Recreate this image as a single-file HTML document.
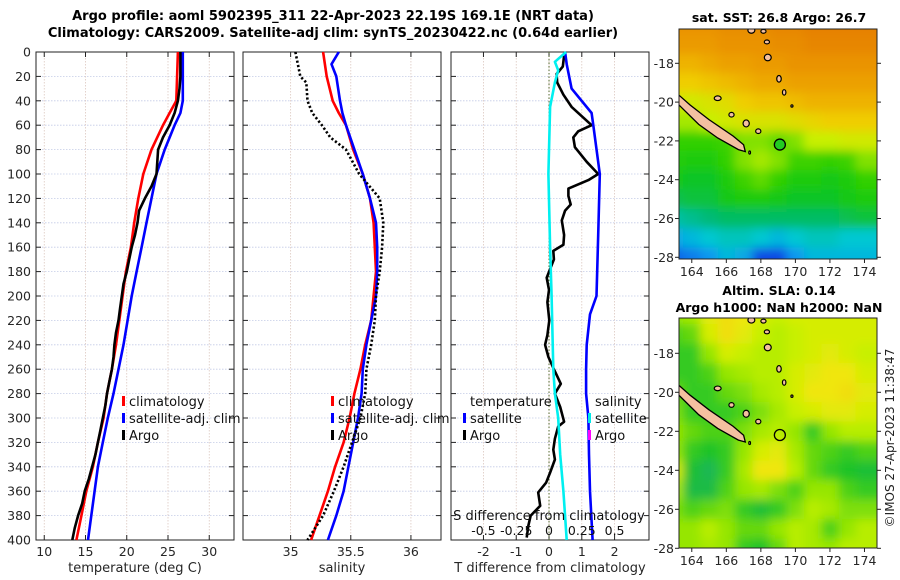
<!DOCTYPE html>
<html><head><meta charset="utf-8"><style>
html,body{margin:0;padding:0;background:#fff}
svg{display:block;font-family:"DejaVu Sans","Liberation Sans",sans-serif}
</style></head><body>
<svg id="fig" width="900" height="580" viewBox="0 0 900 580" xmlns="http://www.w3.org/2000/svg">
<defs>
<clipPath id="clipTop"><rect x="679" y="29" width="198" height="230"/></clipPath>
<clipPath id="clipBot"><rect x="679" y="318" width="198" height="230"/></clipPath>
<filter id="blur" x="-5%" y="-5%" width="110%" height="110%"><feGaussianBlur stdDeviation="5"/></filter>
</defs>
<text x="333" y="20" text-anchor="middle" font-size="13" font-weight="bold">Argo profile: aoml 5902395_311 22-Apr-2023 22.19S 169.1E (NRT data)</text>
<text x="333" y="37" text-anchor="middle" font-size="13" font-weight="bold">Climatology: CARS2009. Satellite-adj clim: synTS_20230422.nc (0.64d earlier)</text>
<g id="plots"></g>
<text x="779" y="22" text-anchor="middle" font-size="12.5" font-weight="bold">sat. SST: 26.8 Argo: 26.7</text>
<text x="779" y="295" text-anchor="middle" font-size="12.5" font-weight="bold">Altim. SLA: 0.14</text>
<text x="779" y="312" text-anchor="middle" font-size="12.5" font-weight="bold">Argo h1000: NaN h2000: NaN</text>
<text transform="translate(894,438) rotate(-90)" text-anchor="middle" font-size="12" fill="#222">©IMOS 27-Apr-2023 11:38:47</text>
</svg>
<script>
// ---- profile data ----
const tDepth=[0,20,40,50,60,80,100,120,140,160,180,200,220,240,260,280,300,320,340,360,380,400];
const tClim=[26.2,26.1,26.0,25.2,24.4,23.0,22.0,21.4,20.9,20.5,19.9,19.5,19.1,18.7,18.2,17.6,17.2,16.5,15.9,15.1,14.5,13.9];
const tSat=[26.8,26.8,26.8,26.5,25.8,24.6,23.6,23.0,22.4,21.8,21.2,20.6,20.1,19.6,19.0,18.4,17.7,17.1,16.5,16.1,15.7,15.3];
const aDepth=[0,10,20,30,40,50,60,70,80,90,100,110,120,130,140,150,160,170,180,190,200,210,220,230,240,250,260,270,280,290,300,310,320,330,340,350,360,370,380,390,400];
const aT=[26.5,26.5,26.5,26.4,26.2,25.8,25.2,24.4,23.8,23.7,23.6,23.0,22.2,21.5,21.3,21.0,20.6,20.3,20.0,19.6,19.4,19.2,19.0,18.7,18.5,18.4,18.2,17.9,17.6,17.4,17.1,16.8,16.5,16.2,15.8,15.4,14.9,14.6,14.1,13.7,13.4];
const sClim=[35.27,35.30,35.35,35.40,35.46,35.52,35.60,35.66,35.69,35.70,35.71,35.69,35.67,35.62,35.58,35.53,35.49,35.44,35.37,35.31,35.24,35.17];
const sSatDepth=[0,10,20,40,50,60,80,100,120,140,160,180,200,220,240,260,280,300,320,340,360,380,400];
const sSat=[35.40,35.34,35.38,35.41,35.43,35.46,35.53,35.60,35.66,35.71,35.72,35.72,35.71,35.67,35.63,35.60,35.59,35.56,35.52,35.48,35.44,35.38,35.31];
const aSDepth=[0,20,25,40,50,60,70,80,100,120,140,160,180,200,220,240,260,280,300,320,340,360,380,400];
const aS=[35.04,35.08,35.13,35.14,35.18,35.26,35.33,35.46,35.57,35.74,35.77,35.76,35.74,35.71,35.70,35.67,35.63,35.62,35.58,35.51,35.44,35.36,35.27,35.14];
const dTDepth=[3,12,18,25,35,45,60,65,70,78,90,100,105,112,118,125,130,138,150,158,163,170,185,195,205,220,232,240,250,260,272,280,291,303,307,317,326,334,345,353,361,372,380,388,398];
const dTArgo=[0.46,0.42,0.23,0.25,0.44,0.69,1.30,0.89,0.74,0.79,1.15,1.50,1.20,0.59,0.59,0.66,0.49,0.39,0.46,0.44,0.13,0.15,-0.07,0,-0.05,0.01,-0.05,-0.12,-0.02,0.15,0.36,0.18,0.34,0.46,0.28,0.18,0.13,0.18,0.03,-0.09,-0.33,-0.27,-0.56,-0.63,-0.68];
const dTSatDepth=[0,10,30,50,60,100,150,200,215,240,260,280,300,330,360,400];
const dTSat=[0.49,0.54,0.69,1.30,1.35,1.55,1.50,1.45,1.25,1.15,1.13,1.13,1.20,1.22,1.25,1.33];
const dSSatDepth=[0,8,15,25,45,100,160,200,260,280,300,330,360,400];
const dSSat=[0.13,0.045,0.07,0.045,0.008,-0.005,0.008,0.02,0.033,0.045,0.07,0.085,0.11,0.135];
const depthTicks=[0,20,40,60,80,100,120,140,160,180,200,220,240,260,280,300,320,340,360,380,400];
const tTicks=[10,15,20,25,30];
const sTicks=[35,35.5,36];
const dTTicks=[-2,-1,0,1,2];
const dSTicks=[-0.5,-0.25,0,0.25,0.5];
// ---- map data (1-degree cells, lon 163..174, lat -16..-28) ----
const mapLons=[163,164,165,166,167,168,169,170,171,172,173,174];
const mapLats=[-16,-17,-18,-19,-20,-21,-22,-23,-24,-25,-26,-27,-28];
const sst=[
[28.0,28.0,28.0,28.1,28.1,28.1,28.2,28.2,28.3,28.3,28.3,28.3],
[27.9,27.9,27.9,28.0,28.0,28.0,28.1,28.1,28.2,28.2,28.2,28.2],
[27.6,27.6,27.7,27.8,27.8,27.9,27.9,28.0,28.0,28.0,28.0,28.0],
[27.3,27.3,27.4,27.5,27.6,27.7,27.7,27.8,27.8,27.8,27.8,27.8],
[26.9,26.9,27.0,27.1,27.3,27.4,27.4,27.5,27.6,27.6,27.6,27.6],
[26.7,26.7,26.8,26.9,27.0,27.0,27.0,27.1,27.2,27.3,27.3,27.3],
[26.3,26.3,26.3,26.4,26.6,26.6,26.5,26.6,26.8,26.8,26.9,26.9],
[26.2,26.1,26.1,26.3,26.6,26.7,26.6,26.4,26.4,26.3,26.4,26.6],
[26.0,25.9,25.9,26.1,26.4,26.5,26.3,26.1,26.1,26.0,26.1,26.3],
[25.7,25.8,25.8,26.0,26.1,26.1,26.0,25.9,25.9,25.9,26.0,26.1],
[25.3,25.4,25.5,25.6,25.6,25.6,25.6,25.6,25.6,25.6,25.7,25.8],
[24.9,25.0,25.1,25.2,25.2,25.1,25.0,25.1,25.2,25.2,25.1,25.1],
[24.6,24.7,24.8,25.0,24.9,24.5,24.5,24.8,25.0,25.0,25.0,25.0]];
const sla=[
[0.5,0.55,0.75,0.85,0.8,0.7,0.65,0.7,0.7,0.7,0.7,0.7],
[0.35,0.4,0.7,0.85,0.75,0.65,0.6,0.65,0.7,0.7,0.7,0.7],
[0.3,0.3,0.5,0.7,0.65,0.6,0.6,0.65,0.7,0.75,0.7,0.65],
[0.3,0.3,0.35,0.5,0.55,0.6,0.6,0.7,0.75,0.8,0.8,0.7],
[0.4,0.3,0.3,0.4,0.45,0.55,0.6,0.7,0.8,0.8,0.85,0.75],
[0.45,0.3,0.3,0.3,0.35,0.45,0.55,0.65,0.7,0.75,0.75,0.7],
[0.5,0.4,0.35,0.35,0.45,0.55,0.6,0.5,0.3,0.5,0.6,0.6],
[0.5,0.3,0.25,0.3,0.5,0.7,0.75,0.55,0.4,0.35,0.3,0.35],
[0.7,0.2,0.1,0.3,0.55,0.8,0.8,0.6,0.4,0.3,0.25,0.2],
[0.55,0.15,0.15,0.35,0.5,0.55,0.45,0.35,0.5,0.5,0.35,0.3],
[0.45,0.35,0.4,0.45,0.3,0.2,0.3,0.45,0.6,0.55,0.45,0.45],
[0.5,0.5,0.6,0.5,0.4,0.4,0.5,0.6,0.55,0.35,0.5,0.6],
[0.5,0.5,0.55,0.5,0.3,0.25,0.4,0.6,0.55,0.5,0.6,0.6]];
const lonTicks=[164,166,168,170,172,174];
const latTicks=[-18,-20,-22,-24,-26,-28];
const argoLon=169.1, argoLat=-22.19;

const NS="http://www.w3.org/2000/svg";
const root=document.getElementById('plots');
function mk(tag,attrs,parent){const e=document.createElementNS(NS,tag);for(const k in attrs)e.setAttribute(k,attrs[k]);(parent||root).appendChild(e);return e;}
const Y0=52,Y1=540;
function yD(d){return Y0+d/400*(Y1-Y0);}

function panel(name,x0,x1,xmin,xmax,ticks,xlabel,showY){
  const g=mk('g',{});
  
  
  const sx=v=>x0+(v-xmin)/(xmax-xmin)*(x1-x0);
  for(const d of depthTicks){
    const l=mk('line',{x1:x0,x2:x1,y1:yD(d),y2:yD(d),stroke:'#c4cbe6','stroke-width':0.8,'stroke-dasharray':'1.5,1.5'},g);
    
    
    mk('line',{x1:x0,x2:x0+5,y1:yD(d),y2:yD(d),stroke:'#222'},g);
    mk('line',{x1:x1-5,x2:x1,y1:yD(d),y2:yD(d),stroke:'#222'},g);
    if(showY){const t=mk('text',{x:x0-5,y:yD(d)+4.5,'text-anchor':'end','font-size':12.5,fill:'#262626'},g);t.textContent=d;
      
      }
  }
  for(const v of ticks){
    const l=mk('line',{x1:sx(v),x2:sx(v),y1:Y0,y2:Y1,stroke:'#dcc8c0','stroke-width':0.8,'stroke-dasharray':'1.5,1.5'},g);
    
    
    mk('line',{x1:sx(v),x2:sx(v),y1:Y1-5,y2:Y1,stroke:'#222'},g);
    mk('line',{x1:sx(v),x2:sx(v),y1:Y0,y2:Y0+5,stroke:'#222'},g);
    const t=mk('text',{x:sx(v),y:556,'text-anchor':'middle','font-size':12.5,fill:'#262626'},g);t.textContent=v;
    
    
  }
  const f=mk('rect',{x:x0,y:Y0,width:x1-x0,height:Y1-Y0,fill:'none',stroke:'#222','stroke-width':1},g);
  
  
  const xl=mk('text',{x:(x0+x1)/2,y:572,'text-anchor':'middle','font-size':13,fill:'#262626'},g);xl.textContent=xlabel;
  
  
  return {g,sx};
}
function line(p,xs,ds,color,name,dash,w){
  const pts=xs.map((v,i)=>p.sx(v).toFixed(1)+','+yD(ds[i]).toFixed(1)).join(' ');
  const a={points:pts,fill:'none',stroke:color,'stroke-width':w||2.6,'stroke-linejoin':'round'};
  if(dash)a['stroke-dasharray']=dash;
  const e=mk('polyline',a,p.g);
  
  
}
function legend(g,x,y,color,label,name){
  if(color){mk('rect',{x:x-7,y:y-10,width:3,height:10,fill:color},g);}
  const t=mk('text',{x:x,y:y,'font-size':13,fill:'#111'},g);t.textContent=label;
  
  
}
// Panel 1 temperature
const p1=panel('temperature-panel',36,234,9.0,33.0,tTicks,'temperature (deg C)',true);
line(p1,tClim,tDepth,'#ff0000','climatology-temp-line');
line(p1,tSat,tDepth,'#0000ff','satellite-temp-line');
line(p1,aT,aDepth,'#000','argo-temp-line');
legend(p1.g,129,406,'#ff0000','climatology','legend-climatology');
legend(p1.g,129,423,'#0000ff','satellite-adj. clim','legend-satellite');
legend(p1.g,129,440,'#000','Argo','legend-argo');
// Panel 2 salinity
const p2=panel('salinity-panel',243,441,34.604,36.25,sTicks,'salinity',false);
line(p2,sClim,tDepth,'#ff0000','climatology-sal-line');
line(p2,sSat,sSatDepth,'#0000ff','satellite-sal-line');
line(p2,aS,aSDepth,'#000','argo-sal-line','2.2,2.2');
legend(p2.g,338,406,'#ff0000','climatology','legend-climatology-sal');
legend(p2.g,338,423,'#0000ff','satellite-adj. clim','legend-satellite-sal');
legend(p2.g,338,440,'#000','Argo','legend-argo-sal');
// Panel 3 differences
const p3=panel('difference-panel',451,649,-2.99,3.05,dTTicks,'T difference from climatology',false);
const z=mk('line',{x1:p3.sx(0),x2:p3.sx(0),y1:Y0,y2:Y1,stroke:'#556b2f','stroke-width':1,'stroke-dasharray':'1.5,2'},p3.g);


const sxS=v=>p3.sx(v*4);
line(p3,dTArgo,dTDepth,'#000','argo-tdiff-line');
line(p3,dTSat,dTSatDepth,'#0000ff','satellite-tdiff-line');
line(p3,dSSat.map(v=>v*4),dSSatDepth,'#00f0f0','satellite-sdiff-line');
legend(p3.g,470,406,null,'temperature','legend-temperature-header');
legend(p3.g,470,423,'#0000ff','satellite','legend-t-satellite');
legend(p3.g,470,440,'#000','Argo','legend-t-argo');
legend(p3.g,595,406,null,'salinity','legend-salinity-header');
legend(p3.g,595,423,'#00e8e8','satellite','legend-s-satellite');
legend(p3.g,595,440,'#ff00ff','Argo','legend-s-argo');
const st=mk('text',{x:549,y:520,'text-anchor':'middle','font-size':13,fill:'#111'},p3.g);st.textContent='S difference from climatology';


for(const v of dSTicks){const t=mk('text',{x:sxS(v),y:535,'text-anchor':'middle','font-size':12.5,fill:'#111'},p3.g);t.textContent=v;
  
  }

// ---- maps ----
function sstColor(v){
  const st=[[24.4,[16,48,224]],[24.8,[16,150,240]],[25.1,[0,200,210]],[25.5,[0,185,120]],[26.0,[20,200,20]],[26.4,[60,210,0]],[26.8,[200,240,0]],[27.3,[240,205,0]],[27.8,[236,160,0]],[28.3,[230,128,0]]];
  return cmap(v,st);
}
function slaColor(v){
  const st=[[0,[30,176,110]],[0.25,[30,195,40]],[0.5,[150,230,0]],[0.65,[200,240,0]],[0.8,[240,230,10]],[1,[240,196,40]]];
  return cmap(v,st);
}
function cmap(v,st){
  if(v<=st[0][0])return 'rgb('+st[0][1]+')';
  for(let i=1;i<st.length;i++){if(v<=st[i][0]){const t=(v-st[i-1][0])/(st[i][0]-st[i-1][0]);const a=st[i-1][1],b=st[i][1];
    return 'rgb('+a.map((c,k)=>Math.round(c+(b[k]-c)*t)).join(',')+')';}}
  return 'rgb('+st[st.length-1][1]+')';
}
function drawMap(name,top,lat18y,lat28y,vals,colorFn,clip,circleFill){
  const g=mk('g',{});
  
  
  const x0=679,x1=877,bottom=top+230;
  const lx=lon=>x0+(lon-163.26)*17.27;
  const ly=lat=>lat18y+(-18-lat)*(lat28y-lat18y)/10;
  const cg=mk('g',{'clip-path':'url(#'+clip+')'},g);
  const bg=mk('g',{filter:'url(#blur)'},cg);
  for(let r=0;r<mapLats.length;r++)for(let c=0;c<mapLons.length;c++){
    const cx=lx(mapLons[c]),cy=ly(mapLats[r]);
    const w=17.27,h=(lat28y-lat18y)/10;
    const e=mk('rect',{x:cx-w/2-(c==0?20:0),y:cy-h/2-(r==0?20:0),width:w+1+(c==0||c==11?20:0),height:h+1+(r==0||r==12?20:0),fill:colorFn(vals[r][c])},bg);
    
    
  }
  const ll=(pts)=>pts.map(p=>lx(p[0]).toFixed(1)+','+ly(p[1]).toFixed(1)).join(' ');
  const nc=mk('polygon',{points:ll([[163.2,-19.6],[163.9,-20.15],[165,-20.9],[166.4,-21.75],[167.0,-22.2],[167.1,-22.55],[166.7,-22.45],[165.5,-21.85],[164.4,-21.15],[163.6,-20.45],[163.2,-20.1]]),fill:'#f4c0a0',stroke:'#000','stroke-width':1.3},cg);
  
  
  const isl=[[167.45,-16.3,0.2,0.15],[168.15,-16.35,0.15,0.1],[168.35,-16.9,0.15,0.1],[168.4,-17.7,0.2,0.17],[169.05,-18.8,0.13,0.17],[169.35,-19.5,0.1,0.14],[169.8,-20.2,0.06,0.06],[165.5,-19.8,0.2,0.12],[166.3,-20.65,0.15,0.12],[167.15,-21.1,0.18,0.18],[167.85,-21.5,0.15,0.12],[167.35,-22.6,0.05,0.08]];
  for(const i of isl){const e=mk('ellipse',{cx:lx(i[0]),cy:ly(i[1]),rx:i[2]*17.27,ry:i[3]*19.4,fill:'#f4c0a0',stroke:'#000','stroke-width':1.2},cg);
    
    }
  const ac=mk('circle',{cx:lx(argoLon),cy:ly(argoLat),r:5.5,fill:circleFill,stroke:'#000','stroke-width':1.3},g);
  
  
  mk('rect',{x:x0,y:top,width:x1-x0,height:230,fill:'none',stroke:'#222'},g);
  for(const lo of lonTicks){mk('line',{x1:lx(lo),x2:lx(lo),y1:bottom,y2:bottom+4,stroke:'#222'},g);
    const t=mk('text',{x:lx(lo),y:bottom+17,'text-anchor':'middle','font-size':12.5,fill:'#262626'},g);t.textContent=lo;
    
    }
  for(const la of latTicks){const y=ly(la);mk('line',{x1:x0-4,x2:x0,y1:y,y2:y,stroke:'#222'},g);mk('line',{x1:x1,x2:x1+4,y1:y,y2:y,stroke:'#222'},g);
    const t=mk('text',{x:x0-5,y:y+4.5,'text-anchor':'end','font-size':12.5,fill:'#262626'},g);t.textContent=la;
    
    }
}
drawMap('sst-map',29,63.3,257.3,sst,sstColor,'clipTop','#22cc22');
drawMap('sla-map',318,353.3,548.3,sla,slaColor,'clipBot','none');
</script>
</body></html>
